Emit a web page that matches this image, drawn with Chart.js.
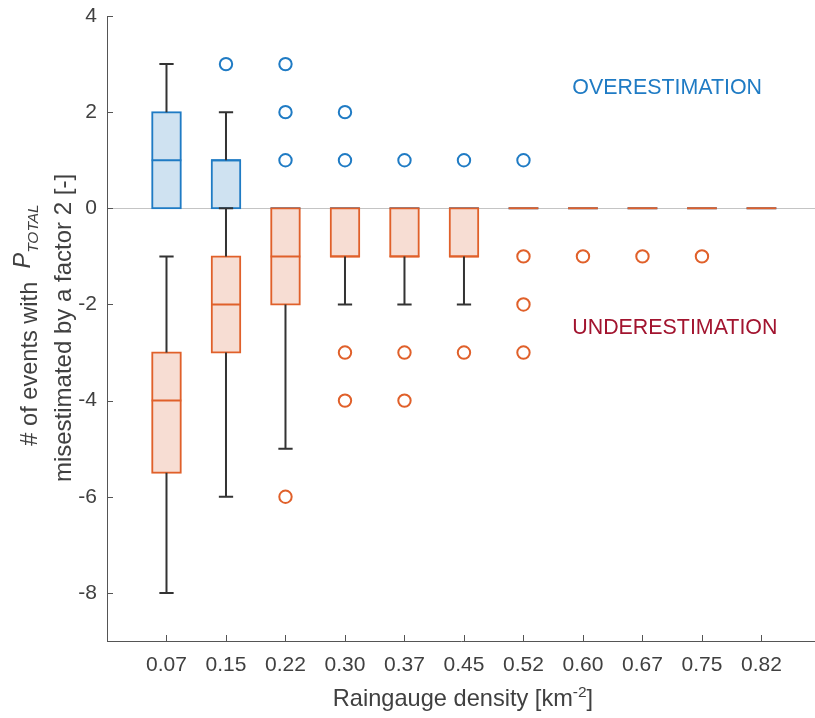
<!DOCTYPE html>
<html>
<head>
<meta charset="utf-8">
<script src="https://cdn.jsdelivr.net/npm/chart.js@4/dist/chart.umd.min.js"></script>
<style>
  html, body { margin: 0; padding: 0; background: #fff; overflow: hidden; }
  #wrap { width: 815px; height: 718px; overflow: hidden; }
  canvas { display: block; }
</style>
</head>
<body>
<div id="wrap"><canvas id="c"></canvas></div>
<script>
// Raingauge densities (categories, km^-2)
const densities = ['0.07', '0.15', '0.22', '0.30', '0.37', '0.45', '0.52', '0.60', '0.67', '0.75', '0.82'];

// Overestimation: box statistics per density
const overQ1          = [0, 0, 0, 0, 0, 0, 0, 0, 0, 0, 0];
const overMedian      = [1, 1, 0, 0, 0, 0, 0, 0, 0, 0, 0];
const overQ3          = [2, 1, 0, 0, 0, 0, 0, 0, 0, 0, 0];
const overWhiskerLow  = [0, 0, 0, 0, 0, 0, 0, 0, 0, 0, 0];
const overWhiskerHigh = [3, 2, 0, 0, 0, 0, 0, 0, 0, 0, 0];
const overOutliers    = [[], [3], [1, 2, 3], [1, 2], [1], [1], [1], [], [], [], []];

// Underestimation: box statistics per density
const underQ1          = [-5.5, -3, -2, -1, -1, -1, 0, 0, 0, 0, 0];
const underMedian      = [-4, -2, -1, -1, -1, -1, 0, 0, 0, 0, 0];
const underQ3          = [-3, -1, 0, 0, 0, 0, 0, 0, 0, 0, 0];
const underWhiskerLow  = [-8, -6, -5, -2, -2, -2, 0, 0, 0, 0, 0];
const underWhiskerHigh = [-1, 0, 0, 0, 0, 0, 0, 0, 0, 0, 0];
const underOutliers    = [[], [], [-6], [-3, -4], [-3, -4], [-3], [-1, -2, -3], [-1], [-1], [-1], []];

// Axis ticks
const yTicks = [-8, -6, -4, -2, 0, 2, 4];

// Styling
const BLUE = '#1f7bc4', BLUE_FILL = '#cfe2f1';
const ORANGE = '#e0602a', ORANGE_FILL = '#f7ddd3';
const WHISKER = '#333333';
const BOX_HALF = 0.25, CAP_HALF = 0.12;
const TEXT = '#404040';
const FONT = '"Liberation Sans", Arial, Helvetica, sans-serif';

function boxBars(q1, q3) {
  const out = [];
  densities.forEach((_, i) => { if (q3[i] !== q1[i]) out.push({ x: i + 1, y: [q1[i], q3[i]] }); });
  return out;
}
function medianSegs(med) {
  const pts = [];
  med.forEach((m, i) => {
    pts.push({ x: i + 1 - BOX_HALF, y: m }, { x: i + 1 + BOX_HALF, y: m }, { x: i + 1 + BOX_HALF, y: null });
  });
  return pts;
}
function whiskerSegs(q1, q3, lo, hi) {
  const pts = [];
  densities.forEach((_, i) => {
    const x = i + 1;
    if (hi[i] > q3[i]) {
      pts.push({ x, y: q3[i] }, { x, y: hi[i] }, { x, y: null },
               { x: x - CAP_HALF, y: hi[i] }, { x: x + CAP_HALF, y: hi[i] }, { x, y: null });
    }
    if (lo[i] < q1[i]) {
      pts.push({ x, y: q1[i] }, { x, y: lo[i] }, { x, y: null },
               { x: x - CAP_HALF, y: lo[i] }, { x: x + CAP_HALF, y: lo[i] }, { x, y: null });
    }
  });
  return pts;
}
function outlierPts(list) {
  const pts = [];
  list.forEach((vals, i) => vals.forEach(v => pts.push({ x: i + 1, y: v })));
  return pts;
}

const segStyle = (color, order) => ({
  type: 'line', borderColor: color, borderWidth: 2, pointRadius: 0,
  spanGaps: false, fill: false, order, tension: 0, borderCapStyle: 'butt'
});
const outStyle = (color, order) => ({
  type: 'scatter', borderColor: color, backgroundColor: 'rgba(255,255,255,0)',
  pointStyle: 'circle', pointRadius: 6.2, borderWidth: 2, order
});
const boxStyle = (fill, line, order) => ({
  type: 'bar', backgroundColor: fill, borderColor: line, borderWidth: 2, borderSkipped: false,
  inflateAmount: 1, grouped: false, barPercentage: 0.48, categoryPercentage: 1, order
});

const decorations = {
  id: 'decorations',
  beforeDraw(chart) {
    const ctx = chart.ctx;
    ctx.save();
    ctx.fillStyle = '#fff';
    ctx.fillRect(0, 0, chart.width, chart.height);
    ctx.restore();
  },
  beforeDatasetsDraw(chart) {
    const { ctx, chartArea, scales } = chart;
    const y0 = Math.round(scales.y.getPixelForValue(0)) + 0.5;
    ctx.save();
    ctx.strokeStyle = '#c4c4c4';
    ctx.lineWidth = 1;
    ctx.beginPath();
    ctx.moveTo(chartArea.left, y0);
    ctx.lineTo(chartArea.right, y0);
    ctx.stroke();
    ctx.restore();
  },
  afterDraw(chart) {
    const { ctx, chartArea, scales } = chart;
    const xs = scales.x, ys = scales.y;
    ctx.save();
    // inward tick marks
    ctx.strokeStyle = '#555';
    ctx.lineWidth = 1;
    ctx.beginPath();
    yTicks.forEach(v => {
      const py = Math.round(ys.getPixelForValue(v)) + 0.5;
      ctx.moveTo(chartArea.left, py);
      ctx.lineTo(chartArea.left + 6, py);
    });
    densities.forEach((_, i) => {
      const px = Math.round(xs.getPixelForValue(i + 1)) + 0.5;
      ctx.moveTo(px, chartArea.bottom);
      ctx.lineTo(px, chartArea.bottom - 6);
    });
    ctx.stroke();

    // region labels
    ctx.font = '21.4px ' + FONT;
    ctx.textAlign = 'left';
    ctx.textBaseline = 'middle';
    ctx.fillStyle = '#1f7bc4';
    ctx.fillText('OVERESTIMATION', xs.getPixelForValue(7.82), ys.getPixelForValue(2.5));
    ctx.fillStyle = '#a2142f';
    ctx.fillText('UNDERESTIMATION', xs.getPixelForValue(7.82), ys.getPixelForValue(-2.5));

    // x-axis title with superscript
    ctx.fillStyle = TEXT;
    ctx.textBaseline = 'alphabetic';
    const mainF = '23.6px ' + FONT, supF = '15.5px ' + FONT;
    const parts = [['Raingauge density [km', mainF, 0], ['-2', supF, -9], [']', mainF, 0]];
    let total = 0;
    parts.forEach(p => { ctx.font = p[1]; total += ctx.measureText(p[0]).width; });
    let cx = 463 - total / 2;
    const by = 706;
    parts.forEach(p => { ctx.font = p[1]; ctx.fillText(p[0], cx, by + p[2]); cx += ctx.measureText(p[0]).width; });

    // y-axis title: two rotated lines
    ctx.save();
    ctx.rotate(-Math.PI / 2);
    const l1 = [['# of events with  ', mainF, 37], ['P', 'italic 23.6px ' + FONT, 30], ['TOTAL', 'italic 15.5px ' + FONT, 38]];
    total = 0;
    l1.forEach(p => { ctx.font = p[1]; total += ctx.measureText(p[0]).width; });
    let tx = -325 - total / 2;
    l1.forEach(p => { ctx.font = p[1]; ctx.fillText(p[0], tx, p[2]); tx += ctx.measureText(p[0]).width; });
    ctx.font = '24px ' + FONT;
    ctx.textAlign = 'center';
    ctx.fillText('misestimated by a factor 2 [-]', -328, 71);
    ctx.restore();

    ctx.restore();
  }
};

function clearScalePadding(s) {
  s.paddingTop = 0; s.paddingBottom = 0; s.paddingLeft = 0; s.paddingRight = 0;
}

new Chart(document.getElementById('c'), {
  type: 'bar',
  data: {
    datasets: [
      Object.assign(boxStyle(BLUE_FILL, BLUE, 10), { data: boxBars(overQ1, overQ3) }),
      Object.assign(segStyle(BLUE, 9), { data: medianSegs(overMedian) }),
      Object.assign(segStyle(WHISKER, 8), { data: whiskerSegs(overQ1, overQ3, overWhiskerLow, overWhiskerHigh) }),
      Object.assign(boxStyle(ORANGE_FILL, ORANGE, 7), { data: boxBars(underQ1, underQ3) }),
      Object.assign(segStyle(ORANGE, 6), { data: medianSegs(underMedian) }),
      Object.assign(segStyle(WHISKER, 5), { data: whiskerSegs(underQ1, underQ3, underWhiskerLow, underWhiskerHigh) }),
      Object.assign(outStyle(BLUE, 2), { data: outlierPts(overOutliers) }),
      Object.assign(outStyle(ORANGE, 1), { data: outlierPts(underOutliers) })
    ]
  },
  options: {
    responsive: true,
    maintainAspectRatio: false,
    animation: false,
    events: [],
    layout: { autoPadding: false, padding: { top: 16, right: 0, bottom: 0, left: 0 } },
    plugins: { legend: { display: false }, tooltip: { enabled: false } },
    scales: {
      x: {
        type: 'linear', min: 0, max: 11.9, offset: false,
        grid: { display: false, drawTicks: false },
        border: { display: true, color: '#555', width: 1 },
        afterBuildTicks(s) { s.ticks = densities.map((_, i) => ({ value: i + 1 })); },
        afterFit(s) { s.height = 77; clearScalePadding(s); },
        ticks: {
          autoSkip: false, maxRotation: 0, padding: 12, color: TEXT,
          font: { size: 21, family: FONT },
          callback: v => densities[v - 1]
        }
      },
      y: {
        type: 'linear', min: -9, max: 4,
        grid: { display: false, drawTicks: false },
        border: { display: true, color: '#555', width: 1 },
        afterBuildTicks(s) { s.ticks = yTicks.map(v => ({ value: v })); },
        afterFit(s) { s.width = 107; clearScalePadding(s); },
        ticks: { padding: 10, color: TEXT, font: { size: 21, family: FONT } }
      }
    }
  },
  plugins: [decorations]
});
</script>
</body>
</html>
